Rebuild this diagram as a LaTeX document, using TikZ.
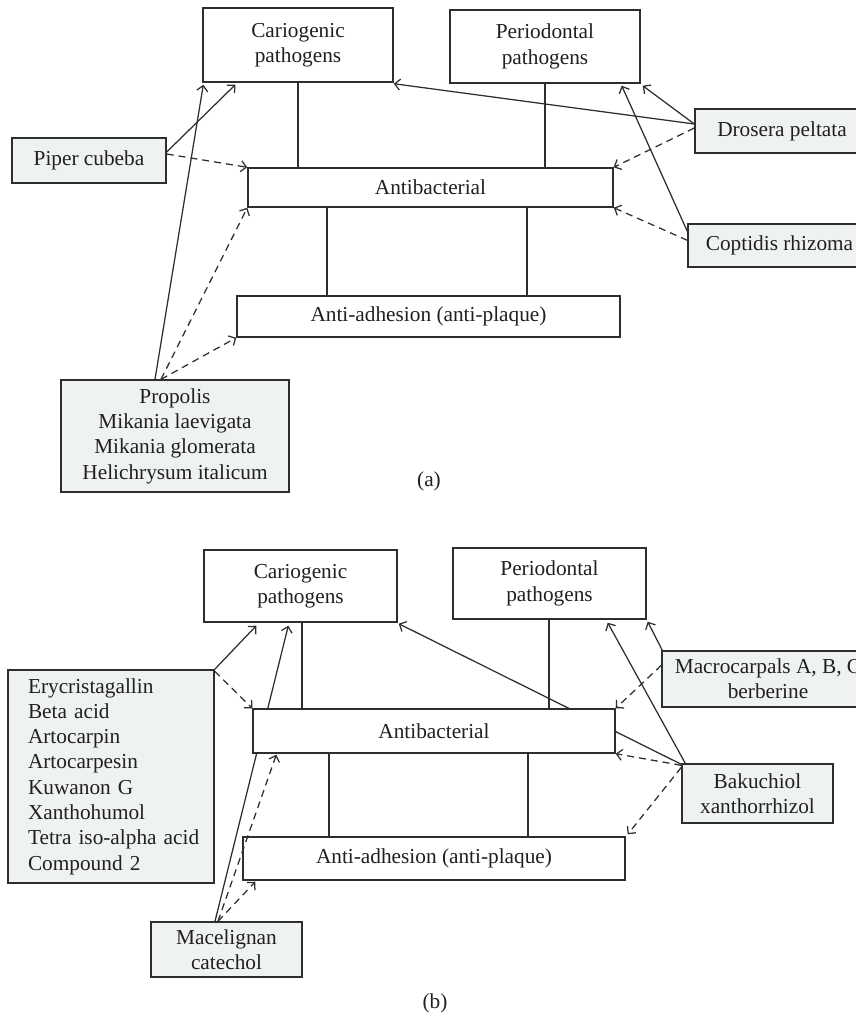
\documentclass[tikz,border=0pt]{standalone}
\usepackage{fontspec}
\setmainfont{Liberation Serif}
\usetikzlibrary{arrows.meta,backgrounds}
\definecolor{linec}{HTML}{2E2E2E}
\definecolor{srcfill}{HTML}{EEF2F3}
\definecolor{txtc}{HTML}{231F20}
\newcommand{\ind}{\hspace*{10pt}}
\begin{document}
\begin{tikzpicture}[x=1pt,y=-1pt,
  box/.style={draw=linec, line width=1.4pt, fill=white, inner sep=0pt, align=center,
    text=txtc, font=\fontsize{21.3}{25.3}\selectfont},
  src/.style={box, fill=srcfill},
  link/.style={draw=linec, line width=1.25pt, -{Straight Barb[length=5.5pt,width=11pt]}},
  dlink/.style={link, dash pattern=on 7pt off 5pt},
  plain/.style={draw=linec, line width=1.3pt},
  sublabel/.style={text=txtc, font=\fontsize{21.3}{25.3}\selectfont}]
\useasboundingbox (0,0) rectangle (856,1014);

% ---------------- (a) ----------------
\node[box, minimum width=190pt, minimum height=74pt] (ca) at (298,45) {Cariogenic\\pathogens};
\node[box, minimum width=190pt, minimum height=73pt] (pa) at (545,46.5) {Periodontal\\pathogens};
\node[box, minimum width=365pt, minimum height=39pt] (aba) at (430.5,187.5) {Antibacterial};
\node[box, minimum width=383pt, minimum height=41pt] (ada) at (428.5,316.5) {Anti-adhesion (anti-plaque)};
\node[src, minimum width=154pt, minimum height=45pt] (piper) at (89,160.5) {Piper cubeba};
\node[src, minimum width=174pt, minimum height=44pt] (drosera) at (782,131) {Drosera peltata};
\node[src, minimum width=183pt, minimum height=43pt] (coptidis) at (779.5,245.5) {Coptidis rhizoma};
\node[src, minimum width=228pt, minimum height=112pt] (propolis) at (175,436) {Propolis\\Mikania laevigata\\Mikania glomerata\\Helichrysum italicum};
\node[sublabel] (labela) at (429,481) {(a)};

\draw[plain] (ca.south) -- (ca.south |- aba.north);
\draw[plain] (pa.south) -- (pa.south |- aba.north);
\draw[plain] ([xshift=-103.5pt]aba.south) coordinate (a1) -- (a1 |- ada.north);
\draw[plain] ([xshift=96.5pt]aba.south) coordinate (a2) -- (a2 |- ada.north);

\draw[link] ([yshift=8.5pt]piper.east) -- ([xshift=33pt,yshift=-2pt]ca.south west);
\draw[dlink] ([yshift=6.5pt]piper.east) -- (aba.north west);
\draw[link] ([xshift=-20pt]propolis.north) -- ([xshift=1pt,yshift=-2pt]ca.south west);
\draw[dlink] ([xshift=-14pt]propolis.north) -- (aba.south west);
\draw[dlink] ([xshift=-14pt]propolis.north) -- (ada.south west);
\draw[link] ([yshift=7pt]drosera.west) -- ([yshift=-1pt]ca.south east);
\draw[link] ([yshift=7pt]drosera.west) -- ([xshift=2pt,yshift=-2pt]pa.south east);
\draw[dlink] ([yshift=3pt]drosera.west) -- (aba.north east);
\draw[link] ([yshift=-8pt]coptidis.north west) -- ([xshift=-19pt,yshift=-2pt]pa.south east);
\draw[dlink] ([yshift=-17pt]coptidis.north west) -- (aba.south east);

% ---------------- (b) ----------------
\node[box, minimum width=193pt, minimum height=72pt] (cb) at (300.5,586) {Cariogenic\\pathogens};
\node[box, minimum width=193pt, minimum height=71pt] (pb) at (549.5,583.5) {Periodontal\\pathogens};
\node[box, minimum width=362pt, minimum height=44pt] (abb) at (434,731) {Antibacterial};
\node[box, minimum width=382pt, minimum height=43pt] (adb) at (434,858.5) {Anti-adhesion (anti-plaque)};
\node[src, minimum width=206pt, minimum height=213pt, text width=186pt, align=left] (ery) at (111,776.5)
  {\ind Erycristagallin\\\ind Beta acid\\\ind Artocarpin\\\ind Artocarpesin\\\ind Kuwanon G\\\ind Xanthohumol\\\ind Tetra iso-alpha acid\\\ind Compound 2};
\node[src, minimum width=212pt, minimum height=56pt] (macro) at (768,679) {Macrocarpals A, B, C\\berberine};
\node[src, minimum width=151pt, minimum height=59pt] (bak) at (757.5,793.5) {Bakuchiol\\xanthorrhizol};
\node[src, minimum width=151pt, minimum height=55pt] (mac) at (226.5,949.5) {Macelignan\\catechol};
\node[sublabel] (labelb) at (435,1003) {(b)};

\begin{scope}[on background layer]
\draw[link] ([xshift=-11.5pt]mac.north) -- ([xshift=85pt,yshift=-3pt]cb.south west);
\draw[link] ([yshift=-1pt]bak.north west) -- ([xshift=1pt,yshift=-1pt]cb.south east);
\end{scope}

\draw[plain] ([xshift=1.5pt]cb.south) coordinate (b0) -- (b0 |- abb.north);
\draw[plain] ([xshift=-0.5pt]pb.south) coordinate (b3) -- (b3 |- abb.north);
\draw[plain] ([xshift=-105pt]abb.south) coordinate (b1) -- (b1 |- adb.north);
\draw[plain] ([xshift=94pt]abb.south) coordinate (b2) -- (b2 |- adb.north);

\draw[link] (ery.north east) -- ([xshift=53pt,yshift=-3pt]cb.south west);
\draw[dlink] ([yshift=-2pt]ery.north east) -- (abb.north west);
\draw[dlink] ([xshift=-8.5pt]mac.north) -- ([xshift=24pt,yshift=-1pt]abb.south west);
\draw[dlink] ([xshift=-8.5pt]mac.north) -- ([xshift=13pt,yshift=-1pt]adb.south west);
\draw[link] ([xshift=4pt]bak.north west) -- ([xshift=-39pt,yshift=-3pt]pb.south east);
\draw[dlink] ([yshift=-2pt]bak.north west) -- (abb.south east);
\draw[dlink] ([yshift=-4pt]bak.north west) -- ([xshift=2pt,yshift=2pt]adb.north east);
\draw[link] ([xshift=1pt]macro.north west) -- ([xshift=1pt,yshift=-2pt]pb.south east);
\draw[dlink] ([yshift=-15pt]macro.north west) -- (abb.north east);
\end{tikzpicture}
\end{document}
